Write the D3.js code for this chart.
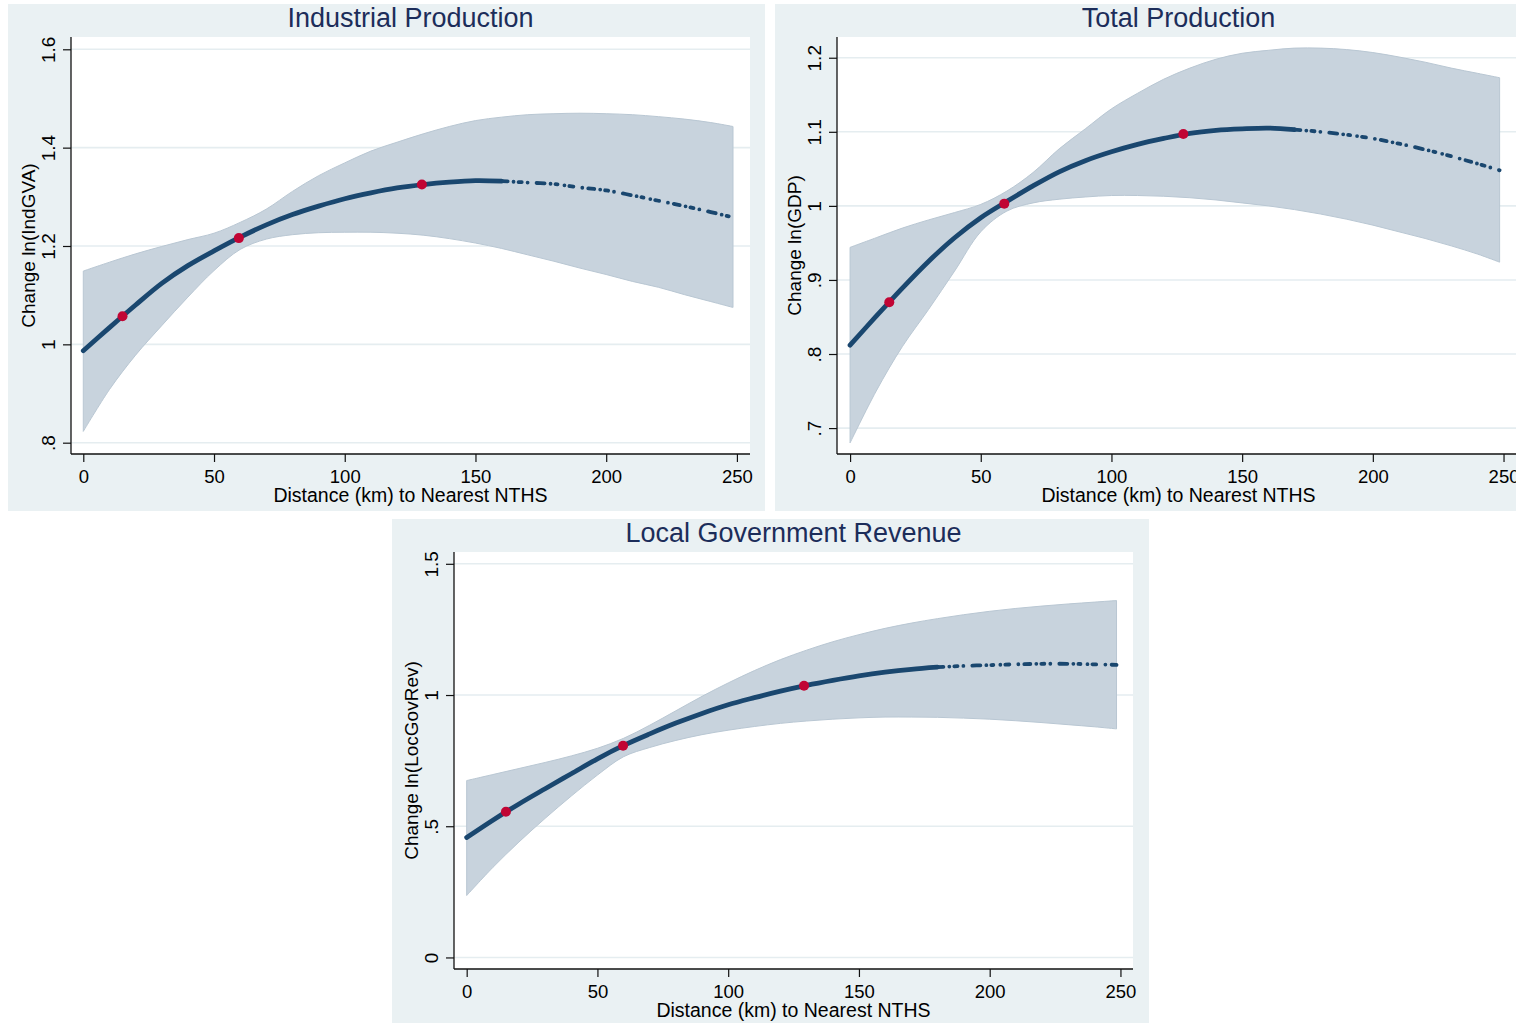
<!DOCTYPE html>
<html>
<head>
<meta charset="utf-8">
<script src="https://cdn.jsdelivr.net/npm/d3@7"></script>
<style>
  body { margin: 0; background: #fff; }
  svg { display: block; font-family: "Liberation Sans", Arial, sans-serif; }
</style>
</head>
<body>
<div id="chart"></div>
<script>
// distance grid (km) shared by the three fitted curves
var distance = [0, 10, 20, 30, 40, 50, 60, 70, 80, 90, 100, 110, 120, 130, 140,
  150, 160, 170, 180, 190, 200, 210, 220, 230, 240, 248.5];

// Industrial production: change ln(IndGVA)
var indFit = [0.987, 1.034, 1.080, 1.124, 1.160, 1.190, 1.218, 1.243, 1.264, 1.281, 1.296,
  1.308, 1.318, 1.325, 1.330, 1.333, 1.332, 1.329, 1.326, 1.319, 1.313, 1.303, 1.292,
  1.281, 1.269, 1.258];
var indUpper = [1.149, 1.167, 1.184, 1.199, 1.213, 1.226, 1.248, 1.275, 1.311, 1.343, 1.369,
  1.393, 1.411, 1.428, 1.443, 1.455, 1.462, 1.467, 1.469, 1.470, 1.469, 1.467, 1.463,
  1.458, 1.451, 1.443];
var indLower = [0.823, 0.908, 0.978, 1.038, 1.096, 1.150, 1.193, 1.214, 1.223, 1.227, 1.228,
  1.228, 1.226, 1.222, 1.215, 1.206, 1.195, 1.182, 1.169, 1.155, 1.142, 1.128, 1.116,
  1.101, 1.087, 1.075];
var indMarkDist = [15, 59.5, 129.5];
var indMarkVal = [1.057, 1.216, 1.325];

// Total production: change ln(GDP)
var gdpFit = [0.812, 0.851, 0.889, 0.925, 0.957, 0.984, 1.006, 1.027, 1.046, 1.061, 1.073,
  1.083, 1.091, 1.098, 1.102, 1.104, 1.105, 1.103, 1.100, 1.096, 1.091, 1.084, 1.076,
  1.067, 1.057, 1.048];
var gdpUpper = [0.944, 0.957, 0.970, 0.981, 0.991, 1.002, 1.020, 1.045, 1.077, 1.104, 1.131,
  1.152, 1.171, 1.186, 1.198, 1.206, 1.210, 1.213, 1.213, 1.211, 1.207, 1.201, 1.194,
  1.186, 1.179, 1.173];
var gdpLower = [0.680, 0.750, 0.810, 0.860, 0.912, 0.965, 0.993, 1.004, 1.009, 1.012, 1.014,
  1.014, 1.013, 1.011, 1.008, 1.004, 1.000, 0.995, 0.989, 0.982, 0.974, 0.965, 0.956,
  0.946, 0.935, 0.924];
var gdpMarkDist = [15, 59, 127.5];
var gdpMarkVal = [0.870, 1.003, 1.097];

// Local government revenue: change ln(LocGovRev)
var revFit = [0.457, 0.523, 0.585, 0.643, 0.700, 0.757, 0.808, 0.852, 0.893, 0.930, 0.963,
  0.990, 1.015, 1.037, 1.056, 1.073, 1.087, 1.098, 1.106, 1.111, 1.114, 1.117, 1.119,
  1.119, 1.117, 1.115];
var revUpper = [0.674, 0.697, 0.720, 0.743, 0.768, 0.797, 0.835, 0.885, 0.940, 0.995, 1.046,
  1.093, 1.135, 1.171, 1.203, 1.230, 1.254, 1.274, 1.291, 1.306, 1.319, 1.330, 1.339,
  1.347, 1.354, 1.360];
var revLower = [0.236, 0.343, 0.440, 0.530, 0.615, 0.695, 0.765, 0.800, 0.827, 0.849, 0.866,
  0.880, 0.892, 0.901, 0.908, 0.913, 0.916, 0.916, 0.915, 0.912, 0.908, 0.902, 0.895,
  0.887, 0.879, 0.871];
var revMarkDist = [15, 59.8, 129];
var revMarkVal = [0.555, 0.807, 1.035];

// ticks
var xTicks = [0, 50, 100, 150, 200, 250];
var indTicks = [0.8, 1, 1.2, 1.4, 1.6];
var indTickLabels = [".8", "1", "1.2", "1.4", "1.6"];
var gdpTicks = [0.7, 0.8, 0.9, 1, 1.1, 1.2];
var gdpTickLabels = [".7", ".8", ".9", "1", "1.1", "1.2"];
var revTicks = [0, 0.5, 1, 1.5];
var revTickLabels = ["0", ".5", "1", "1.5"];

var xTitle = "Distance (km) to Nearest NTHS";

// colours (Stata s2color look)
var bgColor = "#eaf1f3";
var gridColor = "#e5edf0";
var bandColor = "#c8d3dd";
var bandEdge = "#b9c7d3";
var lineColor = "#1a476f";
var markColor = "#c10534";
var titleColor = "#1c2d5a";

var svgWidth = 1516;
var svgHeight = 1023;

var svg = d3.select("#chart")
  .append("svg")
  .attr("width", svgWidth)
  .attr("height", svgHeight);

// panel layout
var panels = [
  {
    title: "Industrial Production", yTitle: "Change ln(IndGVA)",
    bg: { x: 8, y: 4, w: 757, h: 507 },
    plot: { x: 71, y: 37, w: 679, h: 417 },
    xDomain: [-4.7, 255], yDomain: [0.777, 1.625],
    fit: indFit, upper: indUpper, lower: indLower,
    markDist: indMarkDist, markVal: indMarkVal,
    ticks: indTicks, tickLabels: indTickLabels, solidUntil: 160
  },
  {
    title: "Total Production", yTitle: "Change ln(GDP)",
    bg: { x: 775, y: 4, w: 757, h: 507 },
    plot: { x: 837, y: 37, w: 683, h: 417 },
    xDomain: [-5, 256.3], yDomain: [0.665, 1.228],
    fit: gdpFit, upper: gdpUpper, lower: gdpLower,
    markDist: gdpMarkDist, markVal: gdpMarkVal,
    ticks: gdpTicks, tickLabels: gdpTickLabels, solidUntil: 170
  },
  {
    title: "Local Government Revenue", yTitle: "Change ln(LocGovRev)",
    bg: { x: 392, y: 519, w: 757, h: 510 },
    plot: { x: 454, y: 552, w: 679, h: 417 },
    xDomain: [-4.85, 254.8], yDomain: [-0.044, 1.545],
    fit: revFit, upper: revUpper, lower: revLower,
    markDist: revMarkDist, markVal: revMarkVal,
    ticks: revTicks, tickLabels: revTickLabels, solidUntil: 180
  }
];

function drawPanel(p) {
  var g = svg.append("g");

  // graph region
  g.append("rect")
    .attr("x", p.bg.x).attr("y", p.bg.y)
    .attr("width", p.bg.w).attr("height", p.bg.h)
    .attr("fill", bgColor);

  // plot region
  g.append("rect")
    .attr("x", p.plot.x).attr("y", p.plot.y)
    .attr("width", p.plot.w).attr("height", p.plot.h)
    .attr("fill", "#fff");

  var chart = g.append("g")
    .attr("transform", `translate(${p.plot.x}, ${p.plot.y})`);

  var x = d3.scaleLinear().domain(p.xDomain).range([0, p.plot.w]);
  var y = d3.scaleLinear().domain(p.yDomain).range([p.plot.h, 0]);

  // gridlines
  chart.append("g")
    .selectAll("line")
    .data(p.ticks)
    .enter()
    .append("line")
    .attr("x1", 0).attr("x2", p.plot.w)
    .attr("y1", d => y(d)).attr("y2", d => y(d))
    .attr("stroke", gridColor)
    .attr("stroke-width", 1.6);

  var rows = distance.map((d, i) => ({ d: d, fit: p.fit[i], lo: p.lower[i], hi: p.upper[i] }));

  // confidence band
  var area = d3.area()
    .x(r => x(r.d))
    .y0(r => y(r.lo))
    .y1(r => y(r.hi))
    .curve(d3.curveCatmullRom.alpha(0.5));

  chart.append("path")
    .datum(rows)
    .attr("d", area)
    .attr("fill", bandColor)
    .attr("stroke", bandEdge)
    .attr("stroke-width", 1);

  var line = d3.line()
    .x(r => x(r.d))
    .y(r => y(r.fit))
    .curve(d3.curveCatmullRom.alpha(0.5));

  // dense part of fitted values: solid
  chart.append("path")
    .datum(rows.filter(r => r.d <= p.solidUntil))
    .attr("d", line)
    .attr("fill", "none")
    .attr("stroke", lineColor)
    .attr("stroke-width", 4.8)
    .attr("stroke-linecap", "round");

  // sparse part: scattered dots
  chart.append("path")
    .datum(rows.filter(r => r.d >= p.solidUntil))
    .attr("d", line)
    .attr("fill", "none")
    .attr("stroke", lineColor)
    .attr("stroke-width", 3.8)
    .attr("stroke-linecap", "round")
    .attr("stroke-dasharray", "6 6 0 5 3 6 0 9 8 6 0 5 2 7 0 5 4 9 0 6");

  // highlighted points
  chart.append("g")
    .selectAll("circle")
    .data(p.markDist)
    .enter()
    .append("circle")
    .attr("cx", d => x(d))
    .attr("cy", (d, i) => y(p.markVal[i]))
    .attr("r", 5)
    .attr("fill", markColor);

  // axes
  var leftAxis = d3.axisLeft(y)
    .tickValues(p.ticks)
    .tickSize(8)
    .tickFormat((d, i) => p.tickLabels[i]);

  var yAxis = chart.append("g").call(leftAxis);
  yAxis.select(".domain")
    .attr("d", `M0,0V${p.plot.h}`)
    .attr("stroke", "#111")
    .attr("stroke-width", 1.3);
  yAxis.selectAll(".tick line").attr("stroke", "#111").attr("stroke-width", 1.2);
  yAxis.selectAll(".tick text")
    .attr("x", null).attr("dy", null)
    .attr("transform", "translate(-16,0) rotate(-90)")
    .attr("text-anchor", "middle")
    .attr("fill", "#000")
    .style("font-size", "19px")
    .style("font-family", "'Liberation Sans', Arial, sans-serif");

  var bottomAxis = d3.axisBottom(x)
    .tickValues(xTicks)
    .tickSize(8)
    .tickFormat(d3.format("d"));

  var xAxis = chart.append("g")
    .attr("transform", `translate(0, ${p.plot.h})`)
    .call(bottomAxis);
  xAxis.select(".domain")
    .attr("d", `M0,0H${p.plot.w}`)
    .attr("stroke", "#111")
    .attr("stroke-width", 1.3);
  xAxis.selectAll(".tick line").attr("stroke", "#111").attr("stroke-width", 1.2);
  xAxis.selectAll(".tick text")
    .attr("y", 28.5).attr("dy", null)
    .attr("fill", "#000")
    .style("font-size", "18.5px")
    .style("font-family", "'Liberation Sans', Arial, sans-serif");

  // titles
  g.append("text")
    .attr("x", p.plot.x + p.plot.w / 2)
    .attr("y", p.bg.y + 23)
    .attr("text-anchor", "middle")
    .attr("fill", titleColor)
    .style("font-size", "27px")
    .text(p.title);

  chart.append("text")
    .attr("x", p.plot.w / 2)
    .attr("y", p.plot.h + 48)
    .attr("text-anchor", "middle")
    .attr("fill", "#000")
    .style("font-size", "19.5px")
    .text(xTitle);

  chart.append("text")
    .attr("transform", `translate(-36, ${p.plot.h / 2}) rotate(-90)`)
    .attr("text-anchor", "middle")
    .attr("fill", "#000")
    .style("font-size", "19px")
    .text(p.yTitle);
}

panels.forEach(drawPanel);
</script>
</body>
</html>
